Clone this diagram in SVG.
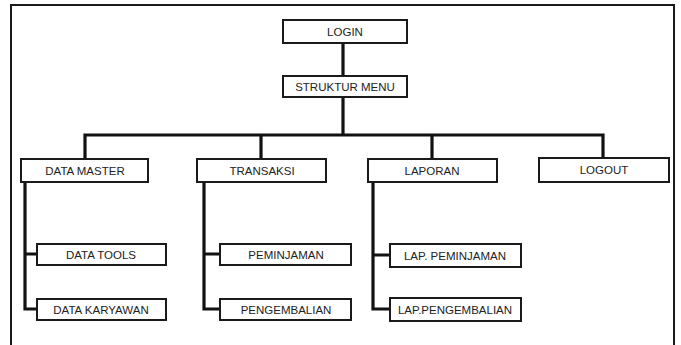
<svg xmlns="http://www.w3.org/2000/svg" width="681" height="345" viewBox="0 0 681 345">
<style>
.box{fill:#fff;stroke:#1a1a1a;stroke-width:2}
.lbl{font-family:"Liberation Sans",Arial,sans-serif;font-size:11.5px;fill:#222;text-anchor:middle}
.con{fill:none;stroke:#111;stroke-width:3.2;stroke-linejoin:miter}
.frame{fill:none;stroke:#1a1a1a;stroke-width:2}
</style>
<rect width="681" height="345" fill="#fff"/>
<path class="frame" d="M11,345 L11,5 L674,5 L674,345"/>
<g id="connectors">
<path class="con" d="M343,43 L343,76"/>
<path class="con" d="M343,97 L343,135"/>
<path class="con" d="M85,159 L85,135 L603,135 L603,158"/>
<path class="con" d="M261,135 L261,159"/>
<path class="con" d="M432,135 L432,159"/>
<path class="con" d="M25,182 L25,309 L37,309 M25,254 L37,254"/>
<path class="con" d="M204,182 L204,309 L220,309 M204,254 L220,254"/>
<path class="con" d="M373,182 L373,309 L390,309 M373,255 L390,255"/>
</g>
<g id="login"><rect class="box" x="283" y="20" width="124" height="23"/><text class="lbl" x="345" y="35.5">LOGIN</text></g>
<g id="struktur-menu"><rect class="box" x="283" y="76" width="124" height="21"/><text class="lbl" x="345" y="90.5">STRUKTUR MENU</text></g>
<g id="data-master"><rect class="box" x="21" y="159" width="127" height="23"/><text class="lbl" x="85" y="174.5">DATA MASTER</text></g>
<g id="transaksi"><rect class="box" x="197" y="159" width="129" height="23"/><text class="lbl" x="262" y="174.5">TRANSAKSI</text></g>
<g id="laporan"><rect class="box" x="368" y="159" width="129" height="23"/><text class="lbl" x="432" y="174.5">LAPORAN</text></g>
<g id="logout"><rect class="box" x="539" y="158" width="130" height="24"/><text class="lbl" x="604" y="174">LOGOUT</text></g>
<g id="data-tools"><rect class="box" x="37" y="244" width="129" height="21"/><text class="lbl" x="101" y="258.5">DATA TOOLS</text></g>
<g id="data-karyawan"><rect class="box" x="37" y="299" width="129" height="21"/><text class="lbl" x="101" y="313.5">DATA KARYAWAN</text></g>
<g id="peminjaman"><rect class="box" x="220" y="244" width="131" height="21"/><text class="lbl" x="286" y="258.5">PEMINJAMAN</text></g>
<g id="pengembalian"><rect class="box" x="220" y="299" width="131" height="21"/><text class="lbl" x="286" y="313.5">PENGEMBALIAN</text></g>
<g id="lap-peminjaman"><rect class="box" x="390" y="244" width="131" height="23"/><text class="lbl" x="455" y="259.5">LAP. PEMINJAMAN</text></g>
<g id="lap-pengembalian"><rect class="box" x="390" y="298" width="131" height="23"/><text class="lbl" x="455" y="313.5">LAP.PENGEMBALIAN</text></g>
</svg>
